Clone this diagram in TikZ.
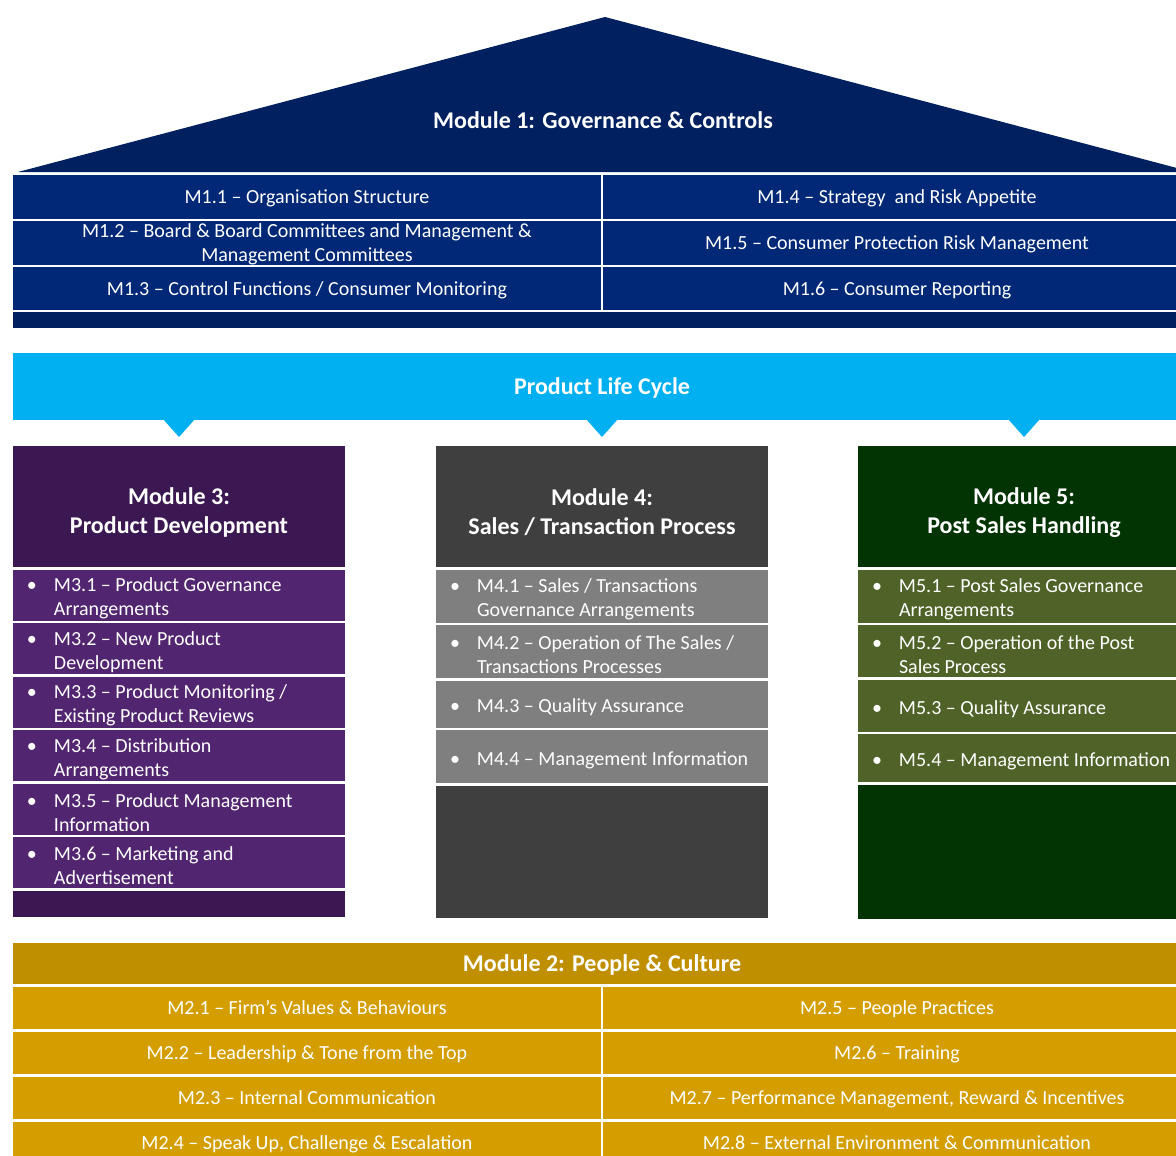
\documentclass[tikz,border=0pt]{standalone}
\usepackage{fontspec}
\setmainfont{Carlito}
\usetikzlibrary{positioning}
\definecolor{marino}{RGB}{0,32,96}
\definecolor{marinofila}{RGB}{0,40,118}
\definecolor{cielo}{RGB}{0,176,240}
\definecolor{morado}{RGB}{59,24,82}
\definecolor{moradofila}{RGB}{82,37,112}
\definecolor{gris}{RGB}{63,63,63}
\definecolor{grisfila}{RGB}{127,127,127}
\definecolor{verde}{RGB}{2,51,2}
\definecolor{verdefila}{RGB}{79,98,40}
\definecolor{ocre}{RGB}{191,143,0}
\definecolor{ocrefila}{RGB}{212,158,0}
\tikzset{
	x=1pt, y=-1pt, % Un punto por pixel, eje y hacia abajo
	every node/.style={text=white, inner sep=0pt, outer sep=0pt}, % Texto blanco en todo
	titulo/.style={font=\fontsize{24}{29}\selectfont\bfseries, align=center}, % Titulos de modulo
	fila/.style={font=\fontsize{20}{24}\selectfont, align=center, anchor=north west, text depth=0pt,
		minimum width=588pt, minimum height=43.5pt}, % Celdas de modulos 1 y 2
	banda/.style={titulo, anchor=north west, text depth=0pt, minimum width=1178pt}, % Bandas a lo ancho
	modulo/.style={anchor=north west, minimum width=332pt, minimum height=121pt}, % Cajas de modulos 3, 4 y 5
	punto/.style={font=\fontsize{20}{24}\selectfont, align=flush left, anchor=north west,
		text width=304pt, inner xsep=14pt, minimum height=51pt} % Filas con vineta
}
\newcommand{\vineta}[2]{\rule{0pt}{21pt}\makebox[27pt][l]{•}#1\\\hspace*{27pt}#2}
\newcommand{\vinetacorta}[1]{\rule{0pt}{21pt}\makebox[27pt][l]{•}#1}

\begin{document}
\begin{tikzpicture}
	\clip (0,0) rectangle (1176,1156);
	\fill[white] (0,0) rectangle (1176,1156);
	% Modulo 1
	\fill[marino] (18,172) -- (605,17) -- (1192,172) -- cycle;
	\node[titulo] (m1) at (603,120) {Module 1: Governance \& Controls};
	\node[fila, fill=marinofila] (m11) at (13,175) {M1.1 – Organisation Structure};
	\node[fila, fill=marinofila, below=2pt of m11, minimum height=44pt] (m12) {M1.2 – Board \& Board Committees and Management \&\\Management Committees};
	\node[fila, fill=marinofila, below=2pt of m12] (m13) {M1.3 – Control Functions / Consumer Monitoring};
	\node[fila, fill=marinofila, right=2pt of m11] (m14) {M1.4 – Strategy~ and Risk Appetite};
	\node[fila, fill=marinofila, right=2pt of m12, minimum height=44pt] (m15) {M1.5 – Consumer Protection Risk Management};
	\node[fila, fill=marinofila, right=2pt of m13] (m16) {M1.6 – Consumer Reporting};
	\node[banda, fill=marino, below=2pt of m13.south west, anchor=north west, minimum height=15.5pt] (m1pie) {};
	% Ciclo de vida
	\node[banda, fill=cielo, minimum height=67pt] (plc) at (13,353) {Product Life Cycle};
	% Modulo 3
	\node[modulo, fill=morado] (m3) at (13,446) {};
	\node[titulo] (t3) at ([yshift=-6pt]m3.center) {Module 3:\\Product Development};
	\node[punto, fill=moradofila, below=2.5pt of m3] (m31) {\vineta{M3.1 – Product Governance}{Arrangements}};
	\node[punto, fill=moradofila, below=2.5pt of m31] (m32) {\vineta{M3.2 – New Product}{Development}};
	\node[punto, fill=moradofila, below=2.5pt of m32] (m33) {\vineta{M3.3 – Product Monitoring /}{Existing Product Reviews}};
	\node[punto, fill=moradofila, below=2.5pt of m33] (m34) {\vineta{M3.4 – Distribution}{Arrangements}};
	\node[punto, fill=moradofila, below=2.5pt of m34] (m35) {\vineta{M3.5 – Product Management}{Information}};
	\node[punto, fill=moradofila, below=2.5pt of m35] (m36) {\vineta{M3.6 – Marketing and}{Advertisement}};
	\node[modulo, fill=morado, below=2.5pt of m36, minimum height=26.5pt] (m3pie) {};
	% Modulo 4
	\node[modulo, fill=gris] (m4) at (436,446) {};
	\node[titulo] (t4) at ([yshift=-6pt]m4.center) {Module 4:\\Sales / Transaction Process};
	\node[punto, fill=grisfila, below=2.5pt of m4, minimum height=53pt] (m41) {\vineta{M4.1 – Sales / Transactions}{Governance Arrangements}};
	\node[punto, fill=grisfila, below=2.5pt of m41, minimum height=53pt] (m42) {\vineta{M4.2 – Operation of The Sales /}{Transactions Processes}};
	\node[punto, fill=grisfila, below=2.5pt of m42, minimum height=47pt] (m43) {\vinetacorta{M4.3 – Quality Assurance}};
	\node[punto, fill=grisfila, below=2.5pt of m43, minimum height=53pt] (m44) {\vinetacorta{M4.4 – Management Information}};
	\node[modulo, fill=gris, below=2.5pt of m44, minimum height=132pt] (m4pie) {};
	% Modulo 5
	\node[modulo, fill=verde] (m5) at (858,446) {};
	\node[titulo] (t5) at ([yshift=-6pt]m5.center) {Module 5:\\Post Sales Handling};
	\node[punto, fill=verdefila, below=2.5pt of m5, minimum height=53pt] (m51) {\vineta{M5.1 – Post Sales Governance}{Arrangements}};
	\node[punto, fill=verdefila, below=2.5pt of m51, minimum height=52pt] (m52) {\vineta{M5.2 – Operation of the Post}{Sales Process}};
	\node[punto, fill=verdefila, below=2.5pt of m52, minimum height=52pt] (m53) {\vinetacorta{M5.3 – Quality Assurance}};
	\node[punto, fill=verdefila, below=2.5pt of m53, minimum height=48pt] (m54) {\vinetacorta{M5.4 – Management Information}};
	\node[modulo, fill=verde, below=2.5pt of m54, minimum height=134pt] (m5pie) {};
	% Flechas del ciclo hacia cada modulo
	\coordinate (p3) at (plc.south -| m3.north);
	\coordinate (p4) at (plc.south -| m4.north);
	\coordinate (p5) at (plc.south -| m5.north);
	\fill[cielo] ([xshift=-16pt, yshift=1pt]p3) -- ([xshift=16pt, yshift=1pt]p3) -- ([yshift=-17pt]p3) -- cycle;
	\fill[cielo] ([xshift=-16pt, yshift=1pt]p4) -- ([xshift=16pt, yshift=1pt]p4) -- ([yshift=-17pt]p4) -- cycle;
	\fill[cielo] ([xshift=-16pt, yshift=1pt]p5) -- ([xshift=16pt, yshift=1pt]p5) -- ([yshift=-17pt]p5) -- cycle;
	% Modulo 2
	\node[banda, fill=ocre, minimum height=41pt] (m2) at (13,943) {Module 2: People \& Culture};
	\node[fila, fill=ocrefila, below=2.5pt of m2.south west, anchor=north west, minimum height=42.5pt] (m21) {M2.1 – Firm’s Values \& Behaviours};
	\node[fila, fill=ocrefila, below=2.5pt of m21, minimum height=42.5pt] (m22) {M2.2 – Leadership \& Tone from the Top};
	\node[fila, fill=ocrefila, below=2.5pt of m22, minimum height=42.5pt] (m23) {M2.3 – Internal Communication};
	\node[fila, fill=ocrefila, below=2.5pt of m23, minimum height=42.5pt] (m24) {M2.4 – Speak Up, Challenge \& Escalation};
	\node[fila, fill=ocrefila, right=2pt of m21, minimum height=42.5pt] (m25) {M2.5 – People Practices};
	\node[fila, fill=ocrefila, right=2pt of m22, minimum height=42.5pt] (m26) {M2.6 – Training};
	\node[fila, fill=ocrefila, right=2pt of m23, minimum height=42.5pt] (m27) {M2.7 – Performance Management, Reward \& Incentives};
	\node[fila, fill=ocrefila, right=2pt of m24, minimum height=42.5pt] (m28) {M2.8 – External Environment \& Communication};
\end{tikzpicture}
\end{document}
